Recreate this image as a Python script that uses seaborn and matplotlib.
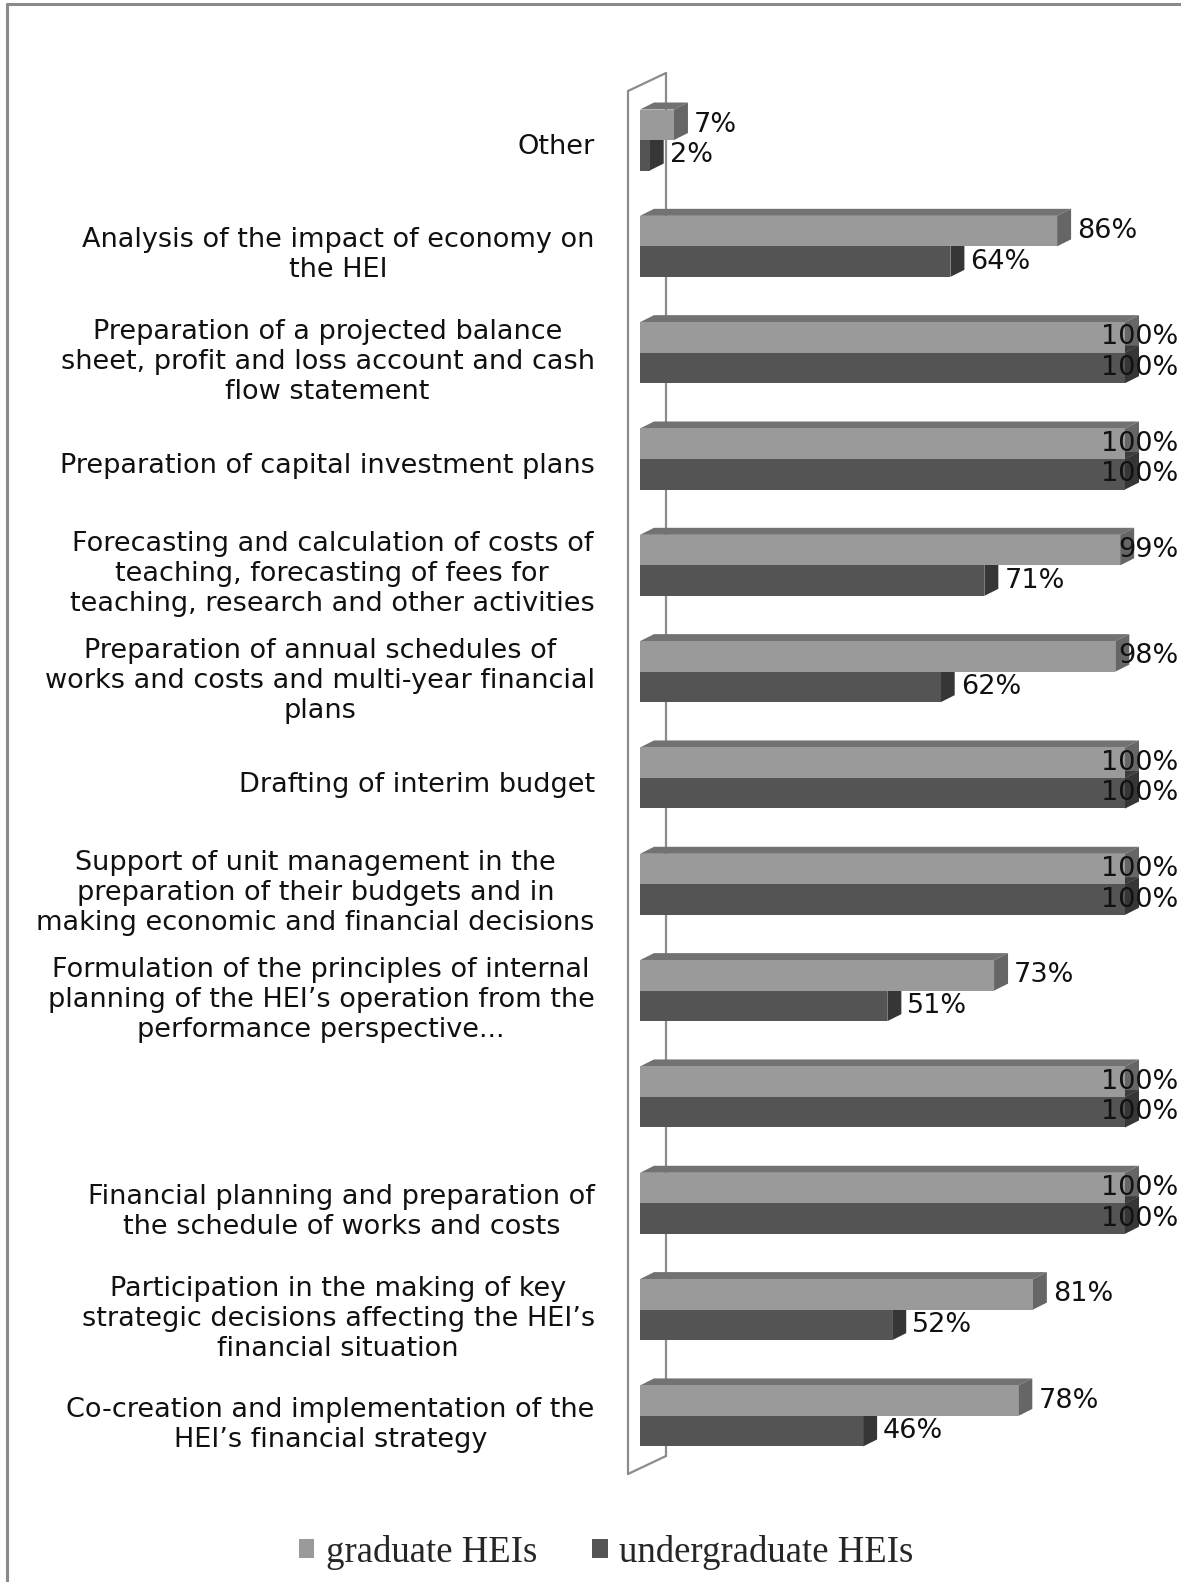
import numpy as np
import pandas as pd
import matplotlib
matplotlib.use("Agg")
import matplotlib.pyplot as plt
import matplotlib.transforms as mtransforms
from matplotlib.patches import Polygon, Patch
from matplotlib.lines import Line2D
import seaborn as sns

categories = [
    "Other",
    "Analysis of the impact of economy on\nthe HEI",
    "Preparation of a projected balance\nsheet, profit and loss account and cash\nflow statement",
    "Preparation of capital investment plans",
    "Forecasting and calculation of costs of\nteaching, forecasting of fees for\nteaching, research and other activities",
    "Preparation of annual schedules of\nworks and costs and multi-year financial\nplans",
    "Drafting of interim budget",
    "Support of unit management in the\npreparation of their budgets and in\nmaking economic and financial decisions",
    "Formulation of the principles of internal\nplanning of the HEI\u2019s operation from the\nperformance perspective...",
    " ",
    "Financial planning and preparation of\nthe schedule of works and costs",
    "Participation in the making of key\nstrategic decisions affecting the HEI\u2019s\nfinancial situation",
    "Co-creation and implementation of the\nHEI\u2019s financial strategy",
]
graduate = [7, 86, 100, 100, 99, 98, 100, 100, 73, 100, 100, 81, 78]
undergraduate = [2, 64, 100, 100, 71, 62, 100, 100, 51, 100, 100, 52, 46]
series_names = ["graduate HEIs", "undergraduate HEIs"]

front_colors = ["#9a9a9a", "#545454"]
top_colors = ["#727272", "#3c3c3c"]
side_colors = ["#666666", "#363636"]

df = pd.DataFrame({
    "category": categories * 2,
    "value": graduate + undergraduate,
    "group": [series_names[0]] * len(categories) + [series_names[1]] * len(categories),
})

sns.set_theme(style="white")
plt.rcParams["font.family"] = ["DejaVu Sans"]

W, H = 1181, 1582
fig = plt.figure(figsize=(W / 100, H / 100), dpi=100)
fig.patch.set_facecolor("white")

ax_left, ax_right = 628, 1171
ax_top, ax_bottom = 91, 1474
ax = fig.add_axes([ax_left / W, 1 - ax_bottom / H, (ax_right - ax_left) / W, (ax_bottom - ax_top) / H])
ax.set_facecolor("none")

sns.barplot(data=df, x="value", y="category", hue="group", order=categories,
            hue_order=series_names, palette=front_colors, orient="h",
            width=0.574, gap=0, dodge=True, errorbar=None, legend=False,
            saturation=1, linewidth=0, ax=ax)

ax.set_xlim(-12 / 4.85, (ax_right - 640) / 4.85)
ax.set_ylim(12.546, -0.461)
for s in ax.spines.values():
    s.set_visible(False)
ax.set_xticks([])
ax.set_xlabel("")
ax.set_ylabel("")
ax.tick_params(axis="y", length=0, pad=24)
offset = mtransforms.ScaledTranslation(0, -4 / 100, fig.dpi_scale_trans)
for lab in ax.get_yticklabels():
    lab.set_fontsize(19.5)
    lab.set_multialignment("center")
    lab.set_linespacing(1.2)
    lab.set_color("#111111")
    lab.set_transform(lab.get_transform() + offset)

# back wall (decorative frame of the 3D chart)
wall_col = "#8c8c8c"
ident = mtransforms.IdentityTransform()
wdx, wdy = 38, 18
x0, yT, yB = ax_left, H - ax_top, H - ax_bottom
for xs, ys in [((x0, x0), (yB, yT)), ((x0, x0 + wdx), (yT, yT + wdy)),
               ((x0 + wdx, x0 + wdx), (yT + wdy, yB + wdy)), ((x0, x0 + wdx), (yB, yB + wdy))]:
    ax.add_artist(Line2D(xs, ys, transform=ident, color=wall_col, lw=1.6, zorder=0.5, clip_on=False))

# 3D faces and value labels
fig.canvas.draw()
renderer = fig.canvas.get_renderer()
dx, dy = 14, 7
for k, cont in enumerate(ax.containers):
    for rect, val in zip(cont.patches, cont.datavalues):
        rect.set_zorder(2)
        bx, by, bw, bh = rect.get_x(), rect.get_y(), rect.get_width(), rect.get_height()
        (px0, py0) = ax.transData.transform((bx, by))
        (px1, py1) = ax.transData.transform((bx + bw, by + bh))
        L, R = min(px0, px1), max(px0, px1)
        B, T = min(py0, py1), max(py0, py1)
        top = Polygon([(L, T), (R, T), (R + dx, T + dy), (L + dx, T + dy)], closed=True,
                      transform=ident, facecolor=top_colors[k], edgecolor="none", zorder=1,
                      clip_on=False)
        side = Polygon([(R, B), (R, T), (R + dx, T + dy), (R + dx, B + dy)], closed=True,
                       transform=ident, facecolor=side_colors[k], edgecolor="none", zorder=1,
                       clip_on=False)
        ax.add_artist(top)
        ax.add_artist(side)
        t = fig.text(0, 0, f"{val:.0f}%", transform=ident, fontsize=19.5, color="#111111",
                     ha="left", va="center", zorder=3)
        t.set_position((R + dx + 6, (B + T) / 2))
        ext = t.get_window_extent(renderer)
        if ext.x1 > W - 3:
            t.set_position((W - 3 - ext.width, (B + T) / 2))

# outer frame (left and top edges visible)
fig.add_artist(Line2D([7, 7], [0, H - 4], transform=ident, color="#8a8a8a", lw=2.2))
fig.add_artist(Line2D([7, W], [H - 4, H - 4], transform=ident, color="#8a8a8a", lw=2.2))

handles = [Patch(facecolor=front_colors[i], edgecolor="none", label=series_names[i]) for i in range(2)]
fig.legend(handles=handles, loc="center", bbox_to_anchor=(606 / W, 1 - 1552 / H), ncol=2,
           frameon=False, handlelength=0.42, handleheight=0.42, handletextpad=0.3,
           columnspacing=1.5, prop={"family": "Liberation Serif", "size": 26.5})

fig.savefig("out.png", dpi=100, facecolor="white")
